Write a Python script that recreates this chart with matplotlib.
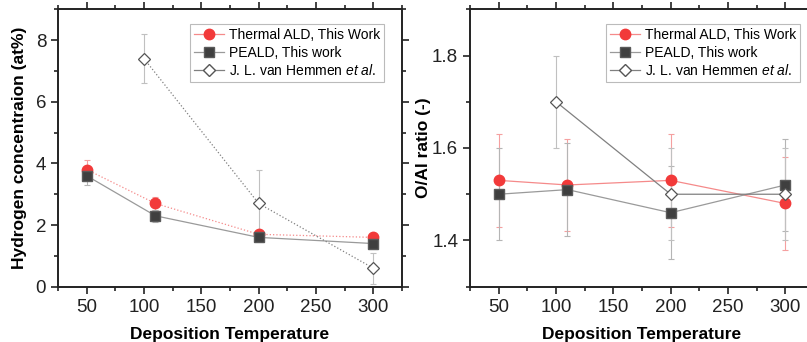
import matplotlib.pyplot as plt
from matplotlib.ticker import MultipleLocator

plt.rcParams['font.family'] = ['Liberation Sans', 'DejaVu Sans']
plt.rcParams['mathtext.fontset'] = 'custom'
plt.rcParams['mathtext.rm'] = 'Liberation Sans'
plt.rcParams['mathtext.it'] = 'Liberation Sans:italic'

# Hydrogen content (at%)
temp_ald = [50, 110, 200, 300]
h_ald = [3.8, 2.7, 1.7, 1.6]
h_ald_err = [0.3, 0.2, 0.1, 0.1]

temp_peald = [50, 110, 200, 300]
h_peald = [3.6, 2.3, 1.6, 1.4]
h_peald_err = [0.3, 0.2, 0.1, 0.1]

temp_ref = [100, 200, 300]
h_ref = [7.4, 2.7, 0.6]
h_ref_err = [0.8, 1.1, 0.5]

# O/Al ratio
oal_ald = [1.53, 1.52, 1.53, 1.48]
oal_ald_err = [0.1, 0.1, 0.1, 0.1]
oal_peald = [1.50, 1.51, 1.46, 1.52]
oal_peald_err = [0.1, 0.1, 0.1, 0.1]
oal_ref = [1.70, 1.50, 1.50]
oal_ref_err = [0.1, 0.1, 0.1]

labels = ['Thermal ALD, This Work', 'PEALD, This work',
          'J. L. van Hemmen $\\it{et\\ al.}$']

red = '#f23a3a'
dark = '#3f3f3f'
grey = '#9a9a9a'

fig = plt.figure(figsize=(8.07, 3.42), dpi=100)
ax1 = fig.add_axes([58/807, 55.3/342, 344/807, 277.4/342])
ax2 = fig.add_axes([470/807, 55.3/342, 344/807, 277.4/342])


def draw(ax, y_ald, e_ald, y_pe, e_pe, y_ref, e_ref, dotted):
    ls_red = ':' if dotted else '-'
    ls_ref = ':' if dotted else '-'
    ax.errorbar(temp_ald, y_ald, yerr=e_ald, fmt='none', ecolor='#f5a0a0',
                elinewidth=0.8, capsize=2.5, capthick=0.8, zorder=1)
    ax.errorbar(temp_peald, y_pe, yerr=e_pe, fmt='none', ecolor='#b5b5b5',
                elinewidth=0.8, capsize=2.5, capthick=0.8, zorder=1)
    ax.errorbar(temp_ref, y_ref, yerr=e_ref, fmt='none', ecolor='#c0c0c0',
                elinewidth=0.8, capsize=2.5, capthick=0.8, zorder=1)
    ax.plot(temp_ald, y_ald, ls=ls_red, color='#f58a8a', lw=0.9, zorder=2)
    ax.plot(temp_peald, y_pe, ls='-', color=grey, lw=0.9, zorder=2)
    ax.plot(temp_ref, y_ref, ls=ls_ref, color='#808080', lw=0.9, zorder=2)
    ax.plot(temp_ald, y_ald, 'o', color=red, ms=7.5, mec=red, zorder=4)
    ax.plot(temp_peald, y_pe, 's', color=dark, ms=6.5, mec='#5a5a5a', zorder=4)
    ax.plot(temp_ref, y_ref, 'D', color='white', ms=6.3, mec='#555555',
            mew=0.9, zorder=5)

    # legend handles with solid lines
    h1, = ax.plot([], [], '-o', color='#f58a8a', mfc=red, mec=red, ms=7.5, lw=0.9)
    h2, = ax.plot([], [], '-s', color=grey, mfc=dark, mec='#5a5a5a', ms=6.5, lw=0.9)
    h3, = ax.plot([], [], '-D', color='#808080', mfc='white', mec='#555555',
                  ms=6.3, lw=0.9)
    return [h1, h2, h3]


hs = draw(ax1, h_ald, h_ald_err, h_peald, h_peald_err, h_ref, h_ref_err, True)
draw(ax2, oal_ald, oal_ald_err, oal_peald, oal_peald_err, oal_ref, oal_ref_err, False)

for ax in (ax1, ax2):
    ax.set_xlim(25, 325)
    ax.xaxis.set_major_locator(MultipleLocator(50))
    ax.xaxis.set_minor_locator(MultipleLocator(25))
    ax.tick_params(which='both', direction='out', top=True, right=True,
                   labeltop=False, labelright=False, width=1.2, labelsize=13.5,
                   colors='#222222')
    ax.tick_params(which='major', length=5)
    ax.tick_params(which='minor', length=3)
    for s in ax.spines.values():
        s.set_linewidth(1.4)
        s.set_color('#222222')
    ax.set_xlabel('Deposition Temperature', fontsize=12.5, fontweight='bold',
                  labelpad=8)

ax1.set_ylim(0, 9)
ax1.yaxis.set_major_locator(MultipleLocator(2))
ax1.yaxis.set_minor_locator(MultipleLocator(1))
ax1.set_ylabel('Hydrogen concentraion (at%)', fontsize=12.5, fontweight='bold',
               labelpad=6)

ax2.set_ylim(1.3, 1.9)
ax2.yaxis.set_major_locator(MultipleLocator(0.2))
ax2.yaxis.set_minor_locator(MultipleLocator(0.1))
ax2.set_ylabel('O/Al ratio (-)', fontsize=12.5, fontweight='bold', labelpad=1)

leg_kw = dict(loc='upper right', fontsize=10, frameon=True, fancybox=False,
              edgecolor='#aaaaaa', handlelength=2.2, handletextpad=0.3,
              borderpad=0.3, labelspacing=0.25, borderaxespad=0)
l1 = ax1.legend(hs, labels, bbox_to_anchor=((384 - 58) / 344, (342 - 24 - 55.3) / 277.4),
                **leg_kw)
l2 = ax2.legend(hs, labels, bbox_to_anchor=((800 - 470) / 344, (342 - 24 - 55.3) / 277.4),
                **leg_kw)
for l in (l1, l2):
    l.get_frame().set_linewidth(0.8)

fig.savefig('out.png', dpi=100)
